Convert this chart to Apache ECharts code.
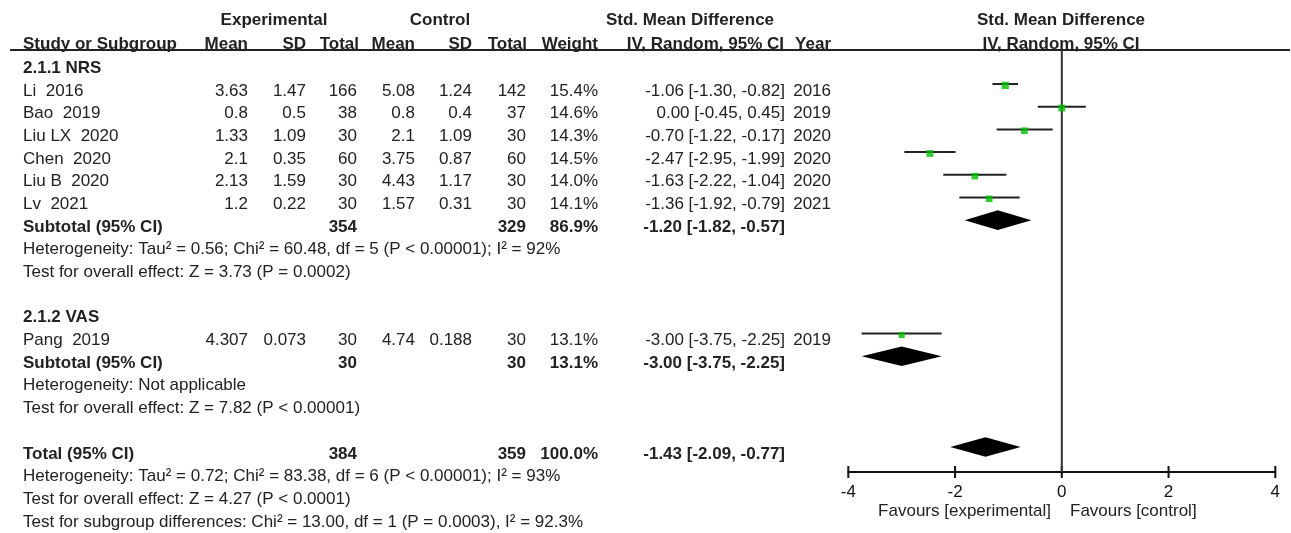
<!DOCTYPE html>
<html><head><meta charset="utf-8">
<script src="https://cdn.jsdelivr.net/npm/echarts@6/dist/echarts.min.js"></script>
<style>html,body{margin:0;padding:0;background:#fff}#c{width:1291px;height:533px}</style>
</head><body><div id="c"></div>
<script>
// ---------- data ----------
const groupNames = ['2.1.1 NRS', '2.1.2 VAS'];
const studyGroup = [0, 0, 0, 0, 0, 0, 1];
const studies = ['Li  2016', 'Bao  2019', 'Liu LX  2020', 'Chen  2020', 'Liu B  2020', 'Lv  2021', 'Pang  2019'];
const expMean = ['3.63', '0.8', '1.33', '2.1', '2.13', '1.2', '4.307'];
const expSD = ['1.47', '0.5', '1.09', '0.35', '1.59', '0.22', '0.073'];
const expTotal = [166, 38, 30, 60, 30, 30, 30];
const ctrlMean = ['5.08', '0.8', '2.1', '3.75', '4.43', '1.57', '4.74'];
const ctrlSD = ['1.24', '0.4', '1.09', '0.87', '1.17', '0.31', '0.188'];
const ctrlTotal = [142, 37, 30, 60, 30, 30, 30];
const weight = [15.4, 14.6, 14.3, 14.5, 14.0, 14.1, 13.1];
const smd = [-1.06, 0.00, -0.70, -2.47, -1.63, -1.36, -3.00];
const ciLow = [-1.30, -0.45, -1.22, -2.95, -2.22, -1.92, -3.75];
const ciHigh = [-0.82, 0.45, -0.17, -1.99, -1.04, -0.79, -2.25];
const year = [2016, 2019, 2020, 2020, 2020, 2021, 2019];

const subExpTotal = [354, 30];
const subCtrlTotal = [329, 30];
const subWeight = [86.9, 13.1];
const subSmd = [-1.20, -3.00];
const subLow = [-1.82, -3.75];
const subHigh = [-0.57, -2.25];
const subHetero = ['Heterogeneity: Tau² = 0.56; Chi² = 60.48, df = 5 (P < 0.00001); I² = 92%', 'Heterogeneity: Not applicable'];
const subTest = ['Test for overall effect: Z = 3.73 (P = 0.0002)', 'Test for overall effect: Z = 7.82 (P < 0.00001)'];

const totExpTotal = 384, totCtrlTotal = 359, totWeight = 100.0;
const totSmd = -1.43, totLow = -2.09, totHigh = -0.77;
const totNotes = ['Heterogeneity: Tau² = 0.72; Chi² = 83.38, df = 6 (P < 0.00001); I² = 93%',
  'Test for overall effect: Z = 4.27 (P < 0.0001)',
  'Test for subgroup differences: Chi² = 13.00, df = 1 (P = 0.0003), I² = 92.3%'];

const xTicks = [-4, -2, 0, 2, 4];
const favours = ['Favours [experimental]', 'Favours [control]'];

// ---------- layout ----------
const FONT = 'Liberation Sans, Arial, sans-serif';
const FS = 17;
const TXT = '#222';
const COL = {name: 23, eMean: 248, eSD: 306, eTot: 357, cMean: 415, cSD: 472, cTot: 526, w: 598, ci: 785, yr: 831};
const TXT_OFF = 0.3;

const fmt2 = v => (v < 0 ? '-' : '') + Math.abs(v).toFixed(2);
const ciText = (e, l, h) => fmt2(e) + ' [' + fmt2(l) + ', ' + fmt2(h) + ']';

const cells = [];
function cell(x, row, text, align, bold) { cells.push({x, row: row + TXT_OFF, text: String(text), align: align || 'right', bold: !!bold}); }

// headers
cell(274, -2.11, 'Experimental', 'center', true);
cell(440, -2.11, 'Control', 'center', true);
cell(690, -2.11, 'Std. Mean Difference', 'center', true);
cell(1061, -2.11, 'Std. Mean Difference', 'center', true);
cell(COL.name, -1.06, 'Study or Subgroup', 'left', true);
cell(COL.eMean, -1.06, 'Mean', 'right', true);
cell(COL.eSD, -1.06, 'SD', 'right', true);
cell(COL.eTot + 2, -1.06, 'Total', 'right', true);
cell(COL.cMean, -1.06, 'Mean', 'right', true);
cell(COL.cSD, -1.06, 'SD', 'right', true);
cell(COL.cTot + 1, -1.06, 'Total', 'right', true);
cell(COL.w, -1.06, 'Weight', 'right', true);
cell(COL.ci - 1, -1.06, 'IV, Random, 95% CI', 'right', true);
cell(COL.yr, -1.06, 'Year', 'right', true);
cell(1061, -1.06, 'IV, Random, 95% CI', 'center', true);

const studyRows = [], subRows = [];
let r = 0;
groupNames.forEach((g, gi) => {
  cell(COL.name, r, g, 'left', true); r++;
  studies.forEach((s, i) => {
    if (studyGroup[i] !== gi) return;
    studyRows[i] = r;
    cell(COL.name, r, s, 'left');
    cell(COL.eMean, r, expMean[i]); cell(COL.eSD, r, expSD[i]); cell(COL.eTot, r, expTotal[i]);
    cell(COL.cMean, r, ctrlMean[i]); cell(COL.cSD, r, ctrlSD[i]); cell(COL.cTot, r, ctrlTotal[i]);
    cell(COL.w, r, weight[i].toFixed(1) + '%'); cell(COL.ci, r, ciText(smd[i], ciLow[i], ciHigh[i])); cell(COL.yr, r, year[i]);
    r++;
  });
  subRows[gi] = r;
  cell(COL.name, r, 'Subtotal (95% CI)', 'left', true);
  cell(COL.eTot, r, subExpTotal[gi], 'right', true); cell(COL.cTot, r, subCtrlTotal[gi], 'right', true);
  cell(COL.w, r, subWeight[gi].toFixed(1) + '%', 'right', true);
  cell(COL.ci, r, ciText(subSmd[gi], subLow[gi], subHigh[gi]), 'right', true);
  r++;
  cell(COL.name, r, subHetero[gi], 'left'); r++;
  cell(COL.name, r, subTest[gi], 'left'); r++;
  r++;
});
const totRow = r;
cell(COL.name, r, 'Total (95% CI)', 'left', true);
cell(COL.eTot, r, totExpTotal, 'right', true); cell(COL.cTot, r, totCtrlTotal, 'right', true);
cell(COL.w, r, totWeight.toFixed(1) + '%', 'right', true);
cell(COL.ci, r, ciText(totSmd, totLow, totHigh), 'right', true);
r++;
totNotes.forEach(t => { cell(COL.name, r, t, 'left'); r++; });
cell(1051, 19.52, favours[0], 'right');
cell(1070, 19.52, favours[1], 'left');

const Y_MIN = -0.5, Y_MAX = 18.1;

const chart = echarts.init(document.getElementById('c'), null, {renderer: 'canvas'});
chart.setOption({
  animation: false,
  backgroundColor: '#fff',
  grid: [
    {left: 10, right: 1, top: 50, height: 422},
    {left: 848.3, width: 427, top: 50, height: 422}
  ],
  xAxis: [
    {gridIndex: 0, type: 'value', min: 10, max: 1290, show: false},
    {gridIndex: 1, type: 'value', min: -4, max: 4, interval: 2, position: 'bottom',
      axisLine: {show: true, onZero: false, lineStyle: {color: '#111', width: 2}},
      axisTick: {show: false},
      axisLabel: {show: true, margin: 12, color: '#111', fontSize: 17, fontFamily: FONT, formatter: v => String(v)},
      splitLine: {show: false}}
  ],
  yAxis: [
    {gridIndex: 0, type: 'value', min: Y_MIN, max: Y_MAX, inverse: true, show: false},
    {gridIndex: 1, type: 'value', min: Y_MIN, max: Y_MAX, inverse: true, show: false}
  ],
  series: [
    { // table text
      type: 'custom', xAxisIndex: 0, yAxisIndex: 0, clip: false, silent: true,
      data: cells.map((c, i) => [c.x, c.row, i]),
      renderItem: (params, api) => {
        const c = cells[api.value(2)];
        const p = api.coord([api.value(0), api.value(1)]);
        return {type: 'text', x: p[0], y: p[1], style: {text: c.text, fill: TXT,
          font: (c.bold ? 'bold ' : '') + FS + 'px ' + FONT, align: c.align, verticalAlign: 'middle'}};
      }
    },
    { // header rule
      type: 'line', xAxisIndex: 0, yAxisIndex: 0, symbol: 'none', silent: true,
      data: [[10, Y_MIN], [1290, Y_MIN]], lineStyle: {color: '#222', width: 2}
    },
    { // x-axis ticks crossing the axis line
      type: 'custom', xAxisIndex: 1, yAxisIndex: 1, clip: false, silent: true,
      data: xTicks.map(t => [t, Y_MAX]),
      renderItem: (params, api) => {
        const p = api.coord([api.value(0), api.value(1)]);
        return {type: 'line', shape: {x1: p[0], y1: p[1] - 6, x2: p[0], y2: p[1] + 6}, style: {stroke: '#111', lineWidth: 2}};
      }
    },
    { // zero line
      type: 'line', xAxisIndex: 1, yAxisIndex: 1, symbol: 'none', silent: true,
      data: [[0, Y_MIN], [0, Y_MAX]], lineStyle: {color: '#333', width: 2}
    },
    { // CI whiskers
      type: 'custom', xAxisIndex: 1, yAxisIndex: 1, silent: true,
      data: studies.map((s, i) => [ciLow[i], ciHigh[i], studyRows[i]]),
      renderItem: (params, api) => {
        const a = api.coord([api.value(0), api.value(2)]);
        const b = api.coord([api.value(1), api.value(2)]);
        return {type: 'line', shape: {x1: a[0], y1: a[1], x2: b[0], y2: b[1]}, style: {stroke: '#222', lineWidth: 2}};
      }
    },
    { // point estimates
      type: 'scatter', xAxisIndex: 1, yAxisIndex: 1, symbol: 'rect', silent: true,
      data: studies.map((s, i) => [smd[i], studyRows[i] + 0.06, weight[i]]),
      symbolSize: v => v[2] * 0.47,
      itemStyle: {color: '#00c000'}, z: 5
    },
    { // diamonds
      type: 'custom', xAxisIndex: 1, yAxisIndex: 1, silent: true,
      data: [[subLow[0], subSmd[0], subHigh[0], subRows[0]], [subLow[1], subSmd[1], subHigh[1], subRows[1]], [totLow, totSmd, totHigh, totRow]],
      renderItem: (params, api) => {
        const row = api.value(3);
        const l = api.coord([api.value(0), row]);
        const m = api.coord([api.value(1), row]);
        const h = api.coord([api.value(2), row]);
        const hh = 9.8;
        return {type: 'polygon', shape: {points: [[l[0], l[1]], [m[0], m[1] - hh], [h[0], h[1]], [m[0], m[1] + hh]]}, style: {fill: '#000'}};
      }
    }
  ]
});
</script></body></html>
